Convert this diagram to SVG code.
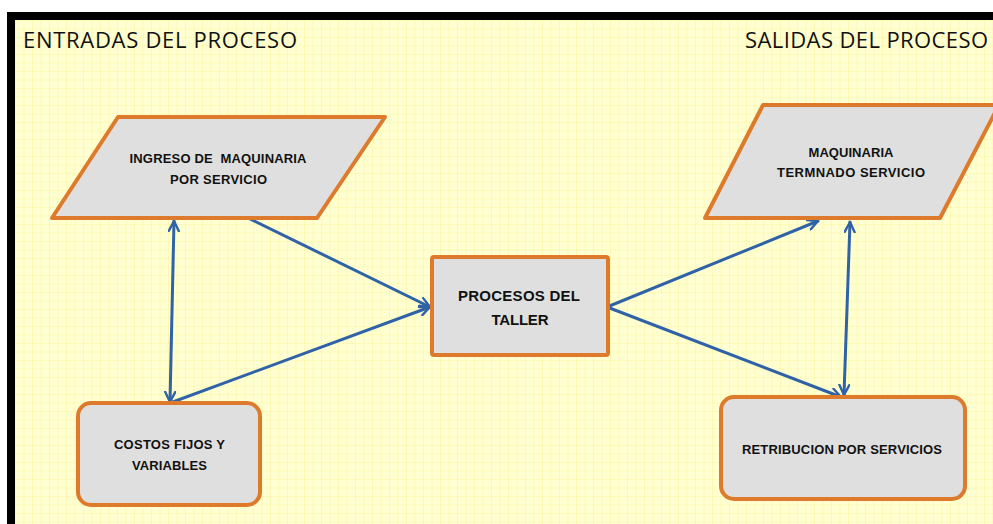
<svg xmlns="http://www.w3.org/2000/svg" width="993" height="524" viewBox="0 0 993 524">
  <defs>
    <pattern id="grid" width="8.5" height="8.5" patternUnits="userSpaceOnUse" x="15" y="20">
      <rect width="8.5" height="8.5" fill="#FFFFD2"/>
      <path d="M0,0 H8.5 M0,0 V8.5" stroke="#FCF59A" stroke-width="1" fill="none"/>
    </pattern>
    <marker id="head" viewBox="0 0 12 12" refX="11" refY="6" markerWidth="12" markerHeight="12" markerUnits="userSpaceOnUse" orient="auto-start-reverse">
      <path d="M1,1 L11,6 L1,11" fill="none" stroke="#2F62A6" stroke-width="2.4" stroke-linecap="round" stroke-linejoin="round"/>
    </marker>
    <style>
      .shape { fill: #DFDFDF; stroke: #DD7A2C; stroke-width: 4; stroke-linejoin: round; }
      .lbl { font-family: "Liberation Sans", Arial, sans-serif; font-weight: bold; font-size: 13px; fill: #111; text-anchor: middle; }
      .big { font-size: 15px; }
      .head { font-family: "Open Sans", "Liberation Sans", sans-serif; font-size: 22px; fill: #111; }
      .conn { stroke: #2F62A6; stroke-width: 3; fill: none; stroke-linecap: round; }
    </style>
  </defs>

  <!-- page background and frame -->
  <rect x="0" y="0" width="993" height="524" fill="#FFFFFF"/>
  <rect x="11" y="16" width="1000" height="600" fill="url(#grid)" stroke="#000000" stroke-width="8"/>

  <!-- section headings -->
  <text class="head" x="23" y="48" textLength="274">ENTRADAS DEL PROCESO</text>
  <text class="head" x="745" y="48" textLength="243">SALIDAS DEL PROCESO</text>

  <!-- connectors -->
  <g id="connectors">
    <line class="conn" x1="240" y1="214" x2="430" y2="307" marker-end="url(#head)"/>
    <line class="conn" x1="170" y1="403" x2="430" y2="307" marker-end="url(#head)"/>
    <line class="conn" x1="174" y1="221" x2="170" y2="402" marker-start="url(#head)" marker-end="url(#head)"/>
    <line class="conn" x1="607" y1="307" x2="818" y2="221" marker-end="url(#head)"/>
    <line class="conn" x1="607" y1="307" x2="841" y2="397" marker-end="url(#head)"/>
    <line class="conn" x1="850" y1="222" x2="844" y2="395" marker-start="url(#head)" marker-end="url(#head)"/>
  </g>

  <!-- inputs -->
  <g id="ingreso">
    <polygon class="shape" points="118,117 385,117 317,218 52,218"/>
    <text class="lbl" x="218" y="163" textLength="177" xml:space="preserve">INGRESO DE  MAQUINARIA</text>
    <text class="lbl" x="218.5" y="184" textLength="97">POR SERVICIO</text>
  </g>

  <g id="costos">
    <rect class="shape" x="78" y="403" width="182" height="102" rx="13"/>
    <text class="lbl" x="169.5" y="449" textLength="111">COSTOS FIJOS Y</text>
    <text class="lbl" x="169.5" y="470" textLength="75">VARIABLES</text>
  </g>

  <!-- process -->
  <g id="procesos">
    <rect class="shape" x="432" y="257" width="176" height="98" rx="2"/>
    <text class="lbl big" x="519" y="301" textLength="122">PROCESOS DEL</text>
    <text class="lbl big" x="520" y="325" textLength="57">TALLER</text>
  </g>

  <!-- outputs -->
  <g id="maquinaria">
    <polygon class="shape" points="763,105 999,105 940,218 705,218"/>
    <text class="lbl" x="851" y="157" textLength="85">MAQUINARIA</text>
    <text class="lbl" x="851" y="177" textLength="148">TERMNADO SERVICIO</text>
  </g>

  <g id="retribucion">
    <rect class="shape" x="721" y="397" width="244" height="102" rx="13"/>
    <text class="lbl" x="842" y="454" textLength="200">RETRIBUCION POR SERVICIOS</text>
  </g>
</svg>
